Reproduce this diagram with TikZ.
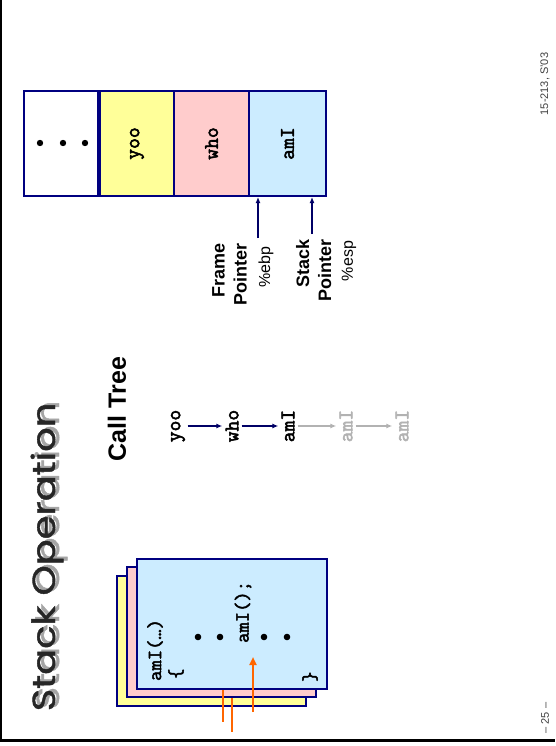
\documentclass[tikz,border=0pt]{standalone}
\usepackage{fontspec}
\usepackage{graphicx}
\setmainfont{Liberation Sans}
\newfontfamily\codefont[FakeBold=2.5]{Latin Modern Mono}
\newfontfamily\titlefont[FakeBold=1.2]{Poppins}
\usetikzlibrary{arrows.meta}

\definecolor{navy}{RGB}{0,0,128}
\definecolor{ptrnavy}{RGB}{0,0,102}
\definecolor{paleyellow}{RGB}{255,255,153}
\definecolor{palepink}{RGB}{255,204,204}
\definecolor{paleblue}{RGB}{204,236,255}
\definecolor{callorange}{RGB}{255,102,0}
\definecolor{fadedgray}{RGB}{178,178,178}
\definecolor{shadowgray}{RGB}{165,165,165}

\newcommand{\titletext}{\scalebox{1.2}[1]{Stack Operation}}

\begin{document}
\begin{tikzpicture}[x=1pt,y=-1pt,
  vlabel/.style={rotate=90, inner sep=0pt},
  codetext/.style={vlabel, font=\codefont\fontsize{20}{22}\selectfont},
  treenode/.style={rotate=90, inner sep=0pt, minimum height=19pt,
    font=\codefont\fontsize{21}{24}\selectfont},
  cell/.style={draw=navy, line width=2pt, minimum height=105pt, inner sep=0pt,
    font=\codefont\fontsize{21}{24}\selectfont},
  codebox/.style={draw=navy, line width=2pt, minimum height=130pt, inner sep=0pt},
  callarrow/.style={draw=ptrnavy, line width=1.5pt, -{Latex[length=6pt,width=5pt]}},
  fadedarrow/.style={callarrow, draw=fadedgray},
  ptrarrow/.style={draw=ptrnavy, line width=1.5pt, -{Latex[length=6pt,width=5pt]}},
  ptrlabel/.style={vlabel, align=right, font=\bfseries\fontsize{18}{22}\selectfont},
  regname/.style={vlabel, font=\fontsize{16}{18}\selectfont},
  calledge/.style={draw=callorange, line width=2.5pt},
  footer/.style={vlabel, text=black!75, font=\fontsize{11}{13}\selectfont},
  titlestyle/.style={vlabel, font=\titlefont\fontsize{32}{32}\selectfont},
  dot/.style={fill=black}
]
\useasboundingbox (0,0) rectangle (555,746);

% page edges
\draw[line width=2pt] (1,0) -- (1,741);
\draw[line width=2.5pt] (0,740.5) -- (555,740.5);

% title with drop shadow
\node[titlestyle, text=shadowgray] (titleshadow) at (51,555) {\titletext};
\node[titlestyle, text=black!85] (title) at (47,557) {\titletext};

% stack of procedure bodies
\node[codebox, fill=paleyellow, minimum width=189pt] (bodyyoo) at (211.5,641) {};
\node[codebox, fill=palepink, minimum width=189pt] (bodywho) at (221.5,632) {};
\node[codebox, fill=paleblue, minimum width=190pt] (bodyami) at (232,624) {};

\node[codetext, anchor=west] (sig) at (155,681) {amI(…)};
\node[codetext, anchor=west] (lbrace) at (176,679) {\{};
\node[codetext, anchor=west] (rbrace) at (310,682) {\}};
\node[codetext, anchor=west] (recur) at (243,643) {amI();};
\foreach \px in {198,220,264,287}
  \fill[dot] (\px,637) circle (3.3pt);

% return-address marks and current call site
\coordinate (retA) at (223,722);
\coordinate (retB) at (232,732);
\draw[calledge] (retA |- bodyami.south) -- (retA);
\draw[calledge] (retB |- bodywho.south) -- (retB);
\coordinate (callsite) at (253,712);
\coordinate (callhead) at (253,657);
\draw[calledge, -{Triangle[length=8pt,width=7pt]}] (callsite) -- (callhead);

% call tree
\node[vlabel, font=\bfseries\fontsize{25}{30}\selectfont] (calltree) at (117,409) {Call Tree};
\node[treenode] (tyoo) at (178,426) {yoo};
\node[treenode] (twho) at (232,426) {who};
\node[treenode] (tami) at (288,426) {amI};
\node[treenode, text=fadedgray] (tamiB) at (346,426) {amI};
\node[treenode, text=fadedgray] (tamiC) at (402,426) {amI};
\draw[callarrow] (tyoo.south) -- (twho.north);
\draw[callarrow] (twho.south) -- (tami.north);
\draw[fadedarrow] (tami.south) -- (tamiB.north);
\draw[fadedarrow] (tamiB.south) -- (tamiC.north);

% stack frames
\node[cell, fill=white, minimum width=74pt] (cellmore) at (61,143.5) {};
\node[cell, fill=paleyellow, minimum width=74pt] (cellyoo) at (137,143.5) {\rotatebox{90}{yoo}};
\node[cell, fill=palepink, minimum width=75pt] (cellwho) at (211.5,143.5) {\rotatebox{90}{who}};
\node[cell, fill=paleblue, minimum width=77pt] (cellami) at (287.5,143.5) {\rotatebox{90}{amI}};
\foreach \px in {40,63,85}
  \fill[dot] (\px,143) circle (3.2pt);

% frame and stack pointers
\node[ptrlabel, anchor=north east] (fplabel) at (212,243) {Frame\\Pointer};
\node[regname] (ebp) at (266,267) {\%ebp};
\node[ptrlabel, anchor=north east] (splabel) at (296,239) {Stack\\Pointer};
\node[regname] (esp) at (349,261) {\%esp};
\coordinate (ebptail) at (258,238);
\coordinate (esptail) at (312,234);
\draw[ptrarrow] (ebptail) -- (ebptail |- cellami.south);
\draw[ptrarrow] (esptail) -- (esptail |- cellami.south);

% footer
\node[footer] (pageno) at (545,718) {– 25 –};
\node[footer] (course) at (545,84) {15-213, S'03};
\end{tikzpicture}
\end{document}
